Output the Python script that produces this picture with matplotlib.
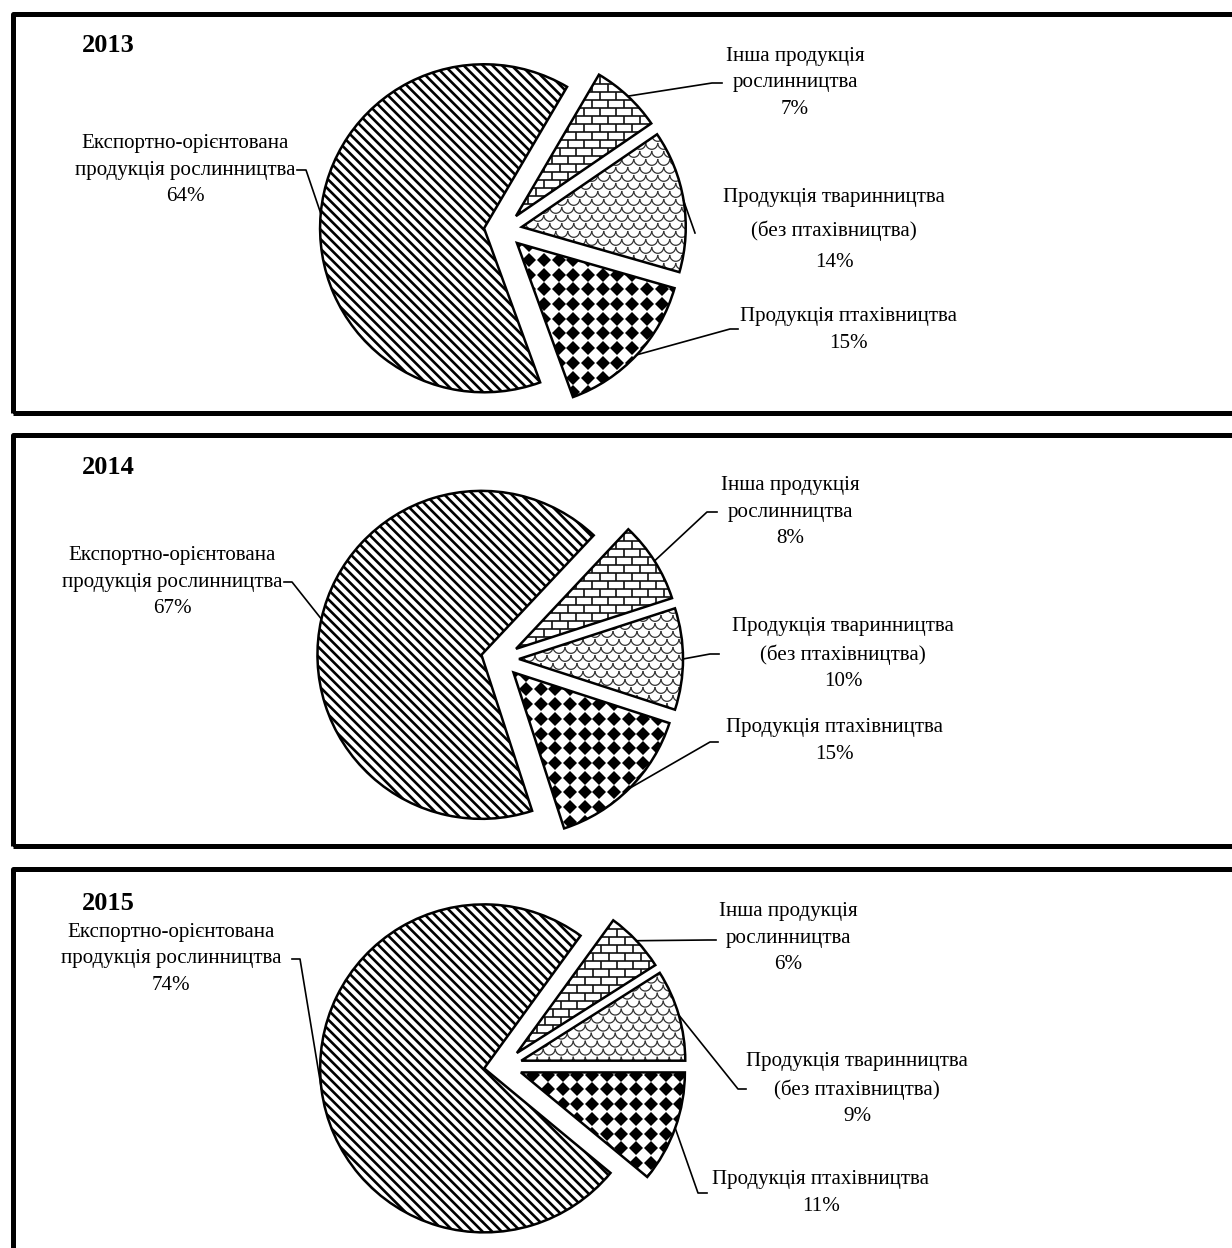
import numpy as np
import matplotlib
matplotlib.use('Agg')
import matplotlib.pyplot as plt
import matplotlib.patches as mpatches
from matplotlib.collections import LineCollection

# shares of agricultural output, order = clockwise from the first slice
categories = ['Інша продукція рослинництва',
              'Продукція тваринництва (без птахівництва)',
              'Продукція птахівництва',
              'Експортно-орієнтована продукція рослинництва']
label_text = ['Інша продукція\nрослинництва',
              'Продукція тваринництва\n(без птахівництва)',
              'Продукція птахівництва',
              'Експортно-орієнтована\nпродукція рослинництва']
years = ['2013', '2014', '2015']
share_2013 = [7, 14, 15, 64]
share_2014 = [8, 10, 15, 67]
share_2015 = [6, 9, 11, 74]
shares = [share_2013, share_2014, share_2015]

W, H = 1232, 1248
R = 164
EXPLODE = 19  # pie() takes the offset in data units (pixels here)

# layout in image pixels (y from the top)
# label: text x, text y, elbow x, elbow y, tail length, line spacing
panels = [
    dict(top=14, bottom=413, center=(503, 230), start=59.6, year_y=45,
         labels=[(795, 83, 712, 83, 10, 1.52), (834, 230, 695, 233, 0, 1.88),
                 (848, 330, 730, 329, 8, 1.52), (185, 170, 306, 170, -9, 1.52)]),
    dict(top=435, bottom=846, center=(500, 659), start=46.8, year_y=468,
         labels=[(790, 512, 707, 512, 10, 1.52), (843, 654, 710, 654, 9, 1.52),
                 (834, 741, 710, 742, 8, 1.52), (172, 582, 292, 582, -8, 1.52)]),
    dict(top=869, bottom=1400, center=(503, 1066), start=54.0, year_y=903,
         labels=[(788, 938, 708, 940, 8, 1.52), (857, 1089, 738, 1089, 8, 1.52),
                 (821, 1193, 698, 1193, 9, 1.52), (171, 959, 300, 959, -8, 1.52)]),
]

plt.rcParams['font.family'] = ['Liberation Serif', 'DejaVu Serif']


def stripes(ax, w):
    cx, cy = w.center
    r = w.r
    segs = [[(c - cy - r, cy + r), (c - cy + r, cy - r)]
            for c in np.arange(cx + cy - 2 * r, cx + cy + 2 * r, 9.6)]
    lc = LineCollection(segs, colors='black', linewidths=1.9, zorder=3)
    ax.add_collection(lc)
    lc.set_clip_path(w)


def bricks(ax, w, h=8.0, bw=16.0):
    cx, cy = w.center
    r = w.r
    rows = np.arange(cy - r, cy + r + h, h)
    segs = [[(cx - r, y), (cx + r, y)] for y in rows]
    for k, y in enumerate(rows[:-1]):
        off = (k % 2) * bw / 2
        for x in np.arange(cx - r - off, cx + r + bw, bw):
            segs.append([(x, y), (x, y + h)])
    lc = LineCollection(segs, colors='#111111', linewidths=1.2, zorder=3)
    ax.add_collection(lc)
    lc.set_clip_path(w)


def shingles(ax, w, pw=12.0, ph=8.0):
    cx, cy = w.center
    r = w.r
    t = np.linspace(np.pi, 2 * np.pi, 10)
    segs = []
    for j, y0 in enumerate(np.arange(cy - r, cy + r + ph, ph)):
        off = (j % 2) * pw / 2
        for x0 in np.arange(cx - r - off, cx + r + pw, pw):
            segs.append(np.column_stack([x0 + pw / 2 * np.cos(t), y0 + 0.8 * ph * np.sin(t)]))
    lc = LineCollection(segs, colors='#333333', linewidths=0.9, zorder=3)
    ax.add_collection(lc)
    lc.set_clip_path(w)


def diamonds(ax, w, step=14.7):
    cx, cy = w.center
    r = w.r
    gx, gy = np.meshgrid(np.arange(cx - r, cx + r + step, step),
                         np.arange(cy - r, cy + r + step, step))
    ln, = ax.plot(gx.ravel(), gy.ravel(), 'D', ms=7.6, color='black', mew=0, zorder=3)
    ln.set_clip_path(w)


textures = [bricks, shingles, diamonds, stripes]

fig = plt.figure(figsize=(W / 100, H / 100), dpi=100)
ax = fig.add_axes([0, 0, 1, 1])

for year, vals, p in zip(years, shares, panels):
    cx, cy = p['center']
    wedges, _ = ax.pie(vals, startangle=p['start'], counterclock=False,
                       explode=[EXPLODE] * len(vals), center=(cx, H - cy), radius=R,
                       wedgeprops=dict(facecolor='white', edgecolor='none'))
    for w, tex in zip(wedges, textures):
        tex(ax, w)
        ax.add_patch(mpatches.Wedge(w.center, w.r, w.theta1, w.theta2, fill=False,
                                    edgecolor='black', linewidth=1.8, zorder=5))

    for w, txt, v, (tx, ty, ex, ey, tail, ls) in zip(wedges, label_text, vals, p['labels']):
        mid = np.deg2rad((w.theta1 + w.theta2) / 2)
        axx = w.center[0] + w.r * np.cos(mid)
        ayy = w.center[1] + w.r * np.sin(mid)
        ax.plot([axx, ex, ex + tail], [ayy, H - ey, H - ey], color='black', lw=1.2, zorder=6)
        ax.text(tx, H - ty, f'{txt}\n{v}%', ha='center', va='center',
                multialignment='center', fontsize=15.1, linespacing=ls)

    ax.text(82, H - p['year_y'], year, ha='left', va='center',
            fontsize=19, fontweight='bold')
    ax.add_patch(mpatches.Rectangle((12.5, H - p['bottom']), 1400, p['bottom'] - p['top'],
                                    fill=False, edgecolor='black', linewidth=3.6,
                                    joinstyle='round', zorder=7))

ax.set_xlim(0, W)
ax.set_ylim(0, H)
ax.set_aspect('auto')
ax.axis('off')

fig.savefig('out.png', dpi=100)
